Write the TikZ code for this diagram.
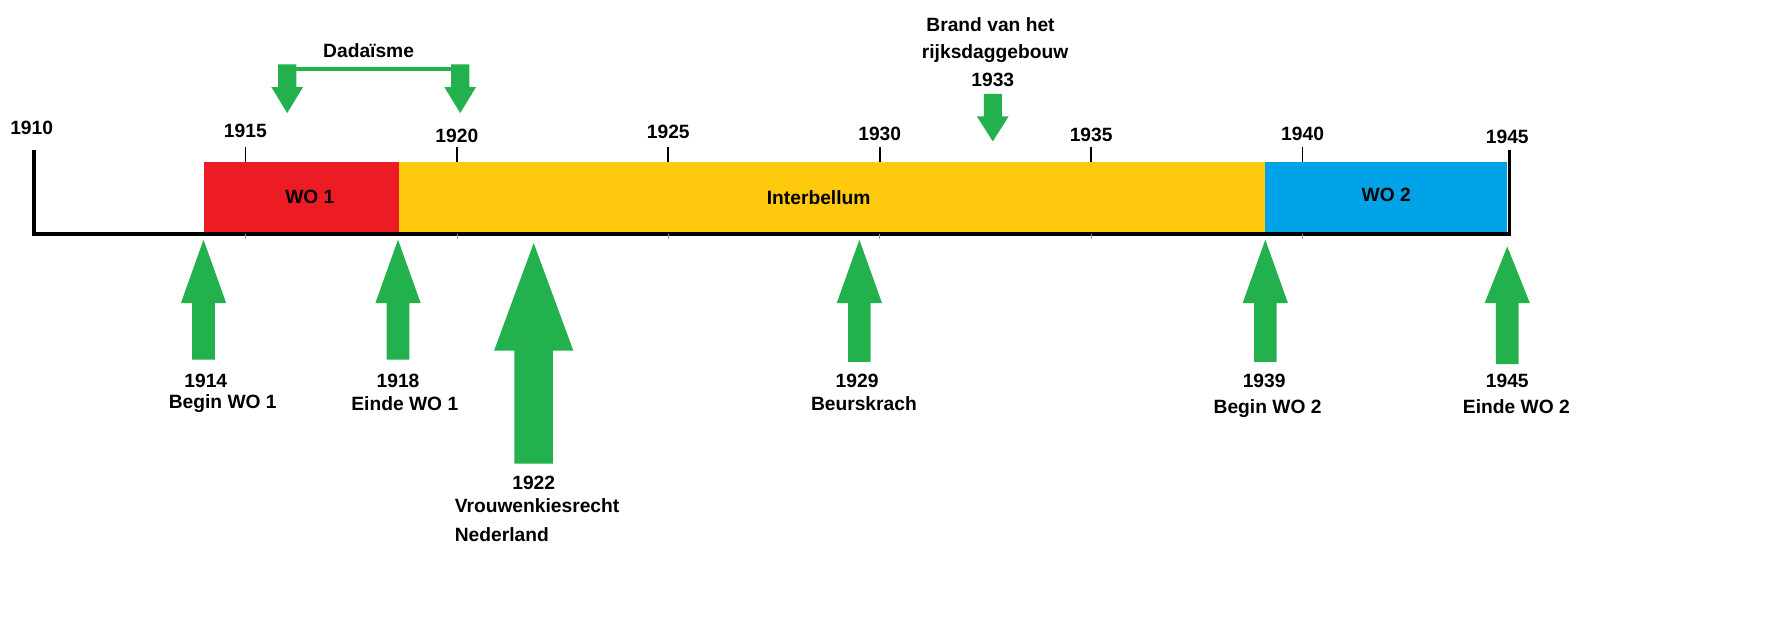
\documentclass[tikz,border=0pt]{standalone}
\usepackage{fontspec}
\setmainfont{Liberation Sans}
\definecolor{agreen}{HTML}{22B14C}
\definecolor{wred}{HTML}{ED1C24}
\definecolor{wyellow}{HTML}{FFC90E}
\definecolor{wblue}{HTML}{00A2E8}
\newcommand{\uparr}[6]{\fill[agreen] (#1,#2) -- (#1+#5,#3) -- (#1+#6,#3) -- (#1+#6,#4) -- (#1-#6,#4) -- (#1-#6,#3) -- (#1-#5,#3) -- cycle;}
\begin{document}
\begin{tikzpicture}[x=1pt,y=-1pt,
  lbl/.style={font=\fontsize{17}{20}\selectfont\bfseries,inner sep=0pt,anchor=center}]
\useasboundingbox[fill=white] (0,0) rectangle (1568,553);
% bars
\fill[wred] (180,143) rectangle (353,207);
\fill[wyellow] (353,143) rectangle (1119,207);
\fill[wblue] (1119,143) rectangle (1333,207);
\node[lbl] (wo1) at (274,174) {WO 1};
\node[lbl] (ib) at (724,175) {Interbellum};
\node[lbl] (wo2) at (1226,172) {WO 2};
% axis
\draw[line width=3pt] (30,133) -- (30,207) -- (1335,207) -- (1335,133);
\foreach \x in {217,404,591,778,965,1152} \draw[line width=1.5pt] (\x,130) -- (\x,143);
\foreach \x in {217,404,591,778,965,1152} \draw[black!40,line width=0.5pt] (\x,207) -- (\x,211);
\node[lbl] (y1910) at (28,113) {1910};
\node[lbl] (y1915) at (217,116) {1915};
\node[lbl] (y1920) at (404,120) {1920};
\node[lbl] (y1925) at (591,117) {1925};
\node[lbl] (y1930) at (778,118) {1930};
\node[lbl] (y1935) at (965,119) {1935};
\node[lbl] (y1940) at (1152,118) {1940};
\node[lbl] (y1945) at (1333,121) {1945};
% up arrows
\uparr{180}{212}{268}{318}{20}{10}
\uparr{352}{212}{268}{318}{20}{10}
\uparr{472}{215}{310}{410}{35}{17}
\uparr{760}{212}{268}{320}{20}{10}
\uparr{1119}{212}{268}{320}{20}{10}
\uparr{1333}{218}{268}{322}{20}{10}
\node[lbl] (a1) at (182,337) {1914};
\node[lbl] (b1) at (197,357) {Begin WO 1};
\node[lbl] (a2) at (352,337) {1918};
\node[lbl] (b2) at (358,357) {Einde WO 1};
\node[lbl] (a3) at (472,427) {1922};
\node[lbl,anchor=west] (b3) at (402,447) {Vrouwenkiesrecht};
\node[lbl,anchor=west] (c3) at (402,473) {Nederland};
\node[lbl] (a4) at (758,337) {1929};
\node[lbl] (b4) at (764,357) {Beurskrach};
\node[lbl] (a5) at (1118,337) {1939};
\node[lbl] (b5) at (1121,361) {Begin WO 2};
\node[lbl] (a6) at (1333,337) {1945};
\node[lbl] (b6) at (1341,360) {Einde WO 2};
% Dadaisme
\node[lbl] (dada) at (326,45) {Dadaïsme};
\draw[agreen,line width=3pt] (254,61) -- (408,61);
\uparr{254}{100}{77}{57}{14}{8}
\uparr{407}{100}{77}{57}{14}{8}
% Brand
\node[lbl] (br1) at (876,22) {Brand van het};
\node[lbl] (br2) at (880,47) {rijksdaggebouw};
\node[lbl] (br3) at (878,71) {1933};
\uparr{878}{125}{103}{83}{14}{8}
\end{tikzpicture}
\end{document}
